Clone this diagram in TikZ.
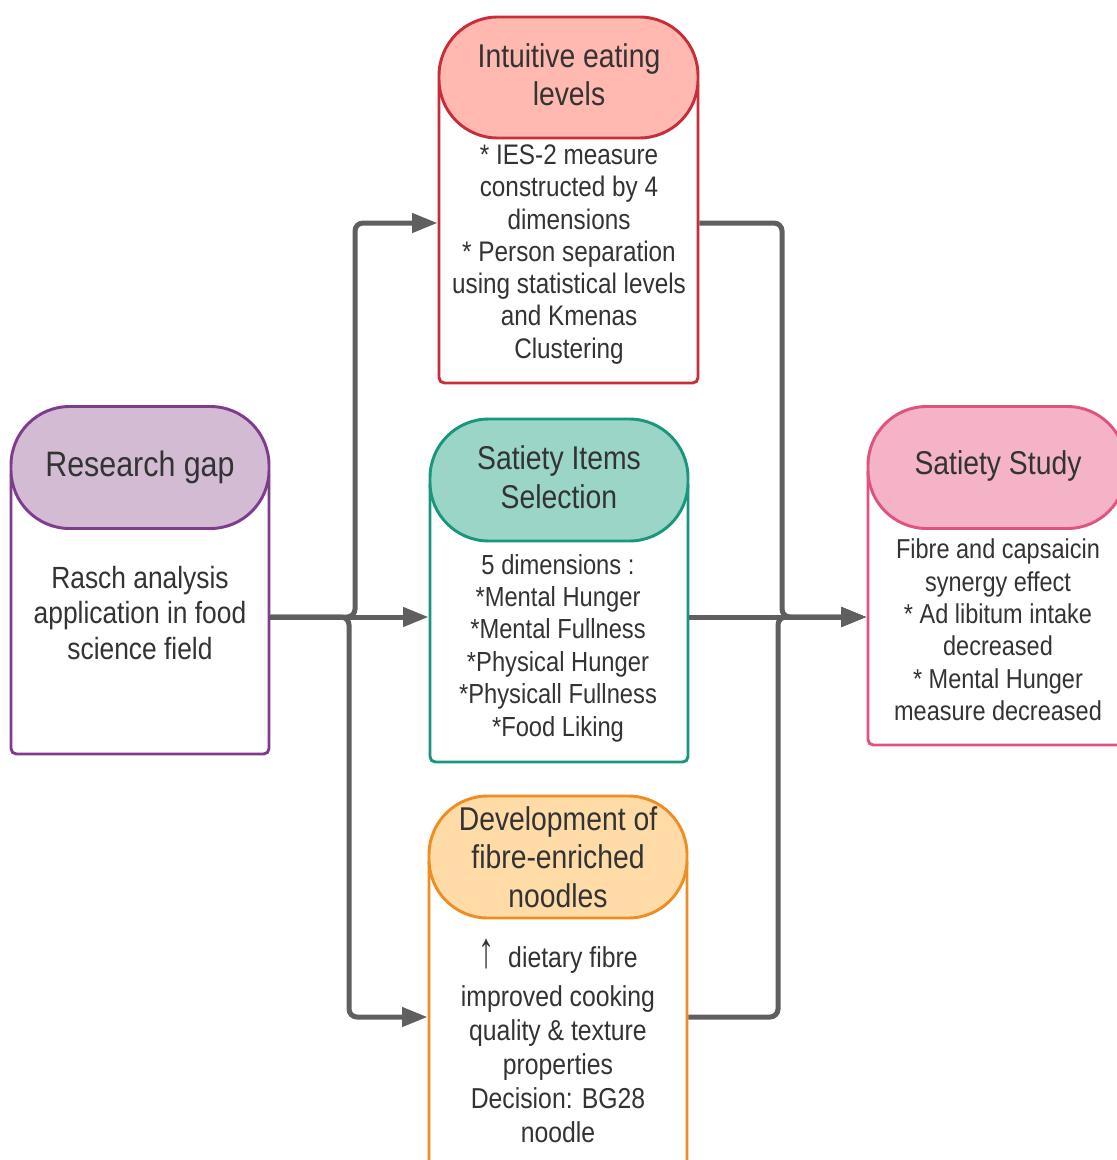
\documentclass[tikz,border=0pt]{standalone}
\usepackage{fontspec}
\setmainfont{Liberation Sans}[FakeStretch=0.86]
\usetikzlibrary{arrows.meta}
\definecolor{txt}{HTML}{333333}
\definecolor{lineC}{HTML}{5F5F5F}
\definecolor{rgS}{HTML}{7E3C8C}
\definecolor{rgF}{HTML}{D3BCD3}
\definecolor{ieS}{HTML}{C92D39}
\definecolor{ieF}{HTML}{FFB9B0}
\definecolor{siS}{HTML}{19967D}
\definecolor{siF}{HTML}{9AD5C8}
\definecolor{ssS}{HTML}{E0537D}
\definecolor{ssF}{HTML}{F4B3C6}
\definecolor{dvS}{HTML}{EF8D22}
\definecolor{dvF}{HTML}{FFDBA8}
\begin{document}
\begin{tikzpicture}[x=0.75pt,y=-0.75pt,
  conn/.style={draw=lineC, line width=3.75pt, rounded corners=6pt, -{Triangle[length=19pt,width=14pt]}},
  boxbody/.style={line width=2.2pt, rounded corners=4pt, fill=white, minimum width=193.5pt, inner sep=0pt},
  pill/.style={line width=2.2pt, rounded corners=44pt, minimum width=193.5pt, minimum height=91.5pt, align=center, text=txt, inner sep=0pt},
  titlefont/.style={font=\fontsize{24.7}{29}\selectfont},
  bodytxt/.style={align=center, text=txt, inner sep=0pt}]
\useasboundingbox (0,0) rectangle (1117,1160);
\clip (0,0) rectangle (1117,1160);
% Research gap
\node[boxbody, draw=rgS, minimum height=213pt] (rg) at (140,612) {};
\node[pill, draw=rgS, fill=rgF, font=\fontsize{26.5}{31}\selectfont] (rgp) at (140,467.5) {Research gap};
\node[bodytxt, font=\fontsize{23}{26.6}\selectfont] (rgt) at (140,613) {Rasch analysis\\application in food\\science field};
% Intuitive eating
\node[boxbody, draw=ieS, minimum width=194.25pt, minimum height=227.25pt] (ie) at (568.5,231.5) {};
\node[pill, draw=ieS, fill=ieF, minimum width=194.25pt, minimum height=90.75pt] (iep) at (568.5,77.5) {};
\node[align=center, text=txt, inner sep=0pt, font=\fontsize{24.7}{28.5}\selectfont] (iet1) at (569,74.5) {Intuitive eating\\levels};
\node[bodytxt, font=\fontsize{21.2}{24.2}\selectfont] (iet) at (569,254.5) {* IES-2 measure\\constructed by 4\\dimensions\\* Person separation\\using statistical levels\\and Kmenas\\Clustering};
% Satiety items
\node[boxbody, draw=siS, minimum height=211.5pt] (si) at (559,621) {};
\node[pill, draw=siS, fill=siF] (sip) at (559,480) {};
\node[align=center, text=txt, inner sep=0pt, titlefont] (sit1) at (559,477) {Satiety Items\\Selection};
\node[bodytxt, font=\fontsize{20.7}{24.3}\selectfont] (sit) at (558,648) {5 dimensions :\\*Mental Hunger\\*Mental Fullness\\*Physical Hunger\\*Physicall Fullness\\*Food Liking};
% Satiety study
\node[boxbody, draw=ssS, minimum height=208.5pt] (ss) at (997,606) {};
\node[pill, draw=ssS, fill=ssF] (ssp) at (997,467.5) {};
\node[text=txt, inner sep=0pt, titlefont] (sst1) at (998,465.5) {Satiety Study};
\node[bodytxt, font=\fontsize{20.5}{24.3}\selectfont] (sst) at (998,630) {Fibre and capsaicin\\synergy effect\\* Ad libitum intake\\decreased\\* Mental Hunger\\measure decreased};
% Development
\node[boxbody, draw=dvS, minimum height=257.25pt] (dv) at (558,1028.5) {};
\node[pill, draw=dvS, fill=dvF, titlefont] (dvp) at (558,857) {Development of\\fibre-enriched\\noodles};
\node[bodytxt, font=\fontsize{21.6}{25.5}\selectfont] (dvt) at (558,1040.5) {\scalebox{1.3}[1.75]{↑}~~dietary fibre\\[3.75pt]improved cooking\\quality \& texture\\properties\\Decision: BG28\\noodle};
% connector coordinates
\coordinate (hub) at (310,617);
\coordinate (lu) at (355,223);
\coordinate (ld) at (349,1017);
\coordinate (ru) at (782,223);
\coordinate (rd) at (778,1017);
% connectors
\draw[conn] (rg.east |- hub) -| (lu) -- (ie.west |- lu);
\draw[conn] (rg.east |- hub) -| (ld) -- (dv.west |- ld);
\draw[conn] (rg.east |- hub) -- (si.west |- hub);
\draw[conn] (ie.east |- ru) -- (ru) |- (ss.west |- hub);
\draw[conn] (dv.east |- rd) -- (rd) |- (ss.west |- hub);
\draw[conn] (si.east |- hub) -- (ss.west |- hub);
\end{tikzpicture}
\end{document}
